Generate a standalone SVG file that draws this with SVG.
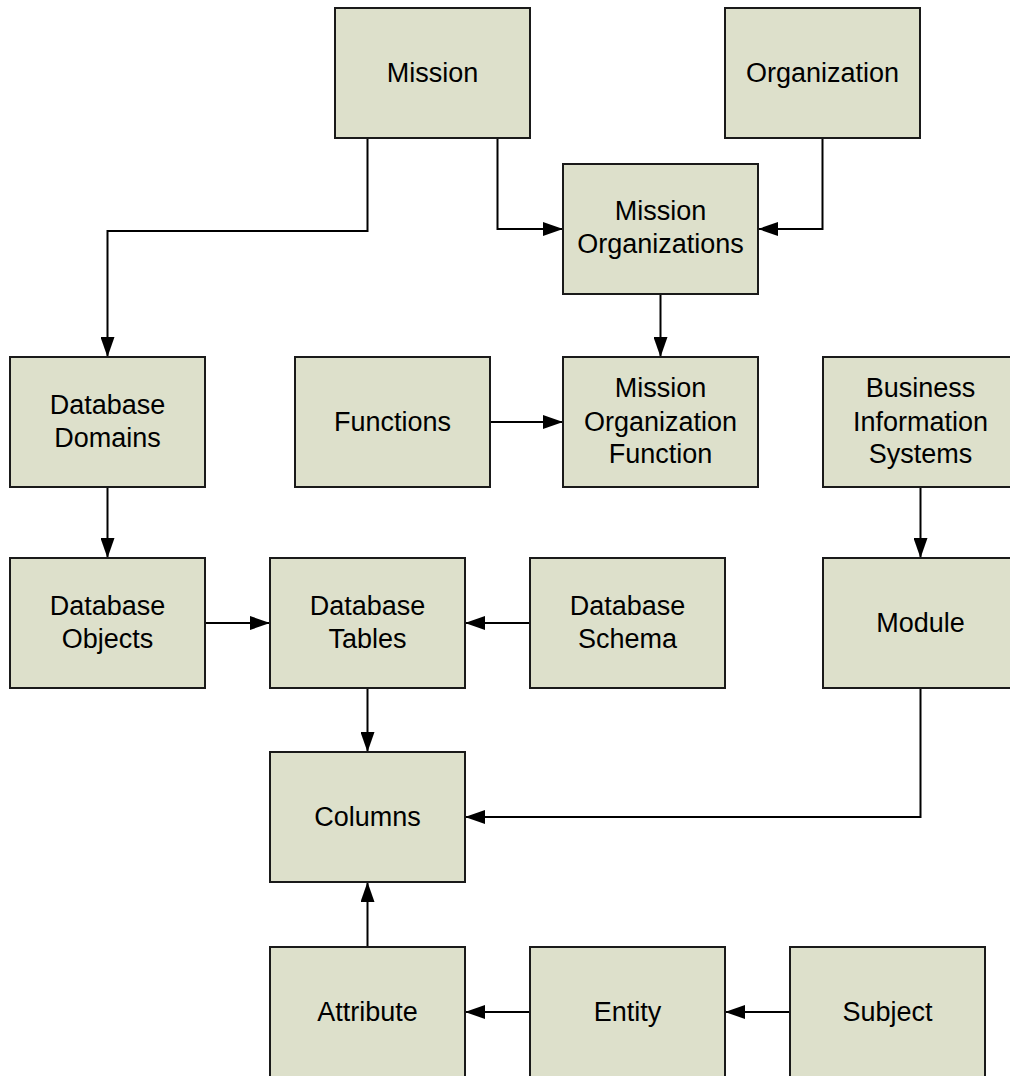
<svg xmlns="http://www.w3.org/2000/svg" width="1010" height="1076" viewBox="0 0 1010 1076">
<style>
.box{fill:#DDE0CB;stroke:#1a1a1a;stroke-width:2}
.lbl{font-family:"Liberation Sans",Arial,sans-serif;font-size:27px;fill:#000;text-anchor:middle}
.con{fill:none;stroke:#000;stroke-width:2}
</style>
<defs>
<marker id="arr" markerUnits="userSpaceOnUse" viewBox="0 0 20 14" refX="20" refY="7" markerWidth="20" markerHeight="14" orient="auto">
<path d="M0,0 L20,7 L0,14 z" fill="#000"/>
</marker>
</defs>
<rect width="1010" height="1076" fill="#fff"/>
<g id="connectors">
<path class="con" d="M367.5,138 V231 H107.5 V357" marker-end="url(#arr)"/>
<path class="con" d="M497.5,138 V229 H563" marker-end="url(#arr)"/>
<path class="con" d="M822.5,138 V229 H758" marker-end="url(#arr)"/>
<path class="con" d="M660.5,294 V357" marker-end="url(#arr)"/>
<path class="con" d="M490,422 H563" marker-end="url(#arr)"/>
<path class="con" d="M920.5,487 V558" marker-end="url(#arr)"/>
<path class="con" d="M107.5,487 V558" marker-end="url(#arr)"/>
<path class="con" d="M205,623 H270" marker-end="url(#arr)"/>
<path class="con" d="M530,623 H465" marker-end="url(#arr)"/>
<path class="con" d="M367.5,688 V752" marker-end="url(#arr)"/>
<path class="con" d="M920.5,688 V817 H465" marker-end="url(#arr)"/>
<path class="con" d="M367.5,947 V882" marker-end="url(#arr)"/>
<path class="con" d="M530,1012 H465" marker-end="url(#arr)"/>
<path class="con" d="M790,1012 H725" marker-end="url(#arr)"/>
</g>
<g id="mission"><rect class="box" x="335" y="8" width="195" height="130"/><text class="lbl" x="432.5" y="82">Mission</text></g>
<g id="organization"><rect class="box" x="725" y="8" width="195" height="130"/><text class="lbl" x="822.5" y="82">Organization</text></g>
<g id="mission-organizations"><rect class="box" x="563" y="164" width="195" height="130"/><text class="lbl" x="660.5" y="220">Mission</text><text class="lbl" x="660.5" y="253">Organizations</text></g>
<g id="database-domains"><rect class="box" x="10" y="357" width="195" height="130"/><text class="lbl" x="107.5" y="414">Database</text><text class="lbl" x="107.5" y="447">Domains</text></g>
<g id="functions"><rect class="box" x="295" y="357" width="195" height="130"/><text class="lbl" x="392.5" y="431">Functions</text></g>
<g id="mission-organization-function"><rect class="box" x="563" y="357" width="195" height="130"/><text class="lbl" x="660.5" y="397">Mission</text><text class="lbl" x="660.5" y="430.5">Organization</text><text class="lbl" x="660.5" y="463">Function</text></g>
<g id="business-information-systems"><rect class="box" x="823" y="357" width="195" height="130"/><text class="lbl" x="920.5" y="397">Business</text><text class="lbl" x="920.5" y="430.5">Information</text><text class="lbl" x="920.5" y="463">Systems</text></g>
<g id="database-objects"><rect class="box" x="10" y="558" width="195" height="130"/><text class="lbl" x="107.5" y="615">Database</text><text class="lbl" x="107.5" y="648">Objects</text></g>
<g id="database-tables"><rect class="box" x="270" y="558" width="195" height="130"/><text class="lbl" x="367.5" y="615">Database</text><text class="lbl" x="367.5" y="648">Tables</text></g>
<g id="database-schema"><rect class="box" x="530" y="558" width="195" height="130"/><text class="lbl" x="627.5" y="615">Database</text><text class="lbl" x="627.5" y="648">Schema</text></g>
<g id="module"><rect class="box" x="823" y="558" width="195" height="130"/><text class="lbl" x="920.5" y="632">Module</text></g>
<g id="columns"><rect class="box" x="270" y="752" width="195" height="130"/><text class="lbl" x="367.5" y="826">Columns</text></g>
<g id="attribute"><rect class="box" x="270" y="947" width="195" height="130"/><text class="lbl" x="367.5" y="1021">Attribute</text></g>
<g id="entity"><rect class="box" x="530" y="947" width="195" height="130"/><text class="lbl" x="627.5" y="1021">Entity</text></g>
<g id="subject"><rect class="box" x="790" y="947" width="195" height="130"/><text class="lbl" x="887.5" y="1021">Subject</text></g>
</svg>
